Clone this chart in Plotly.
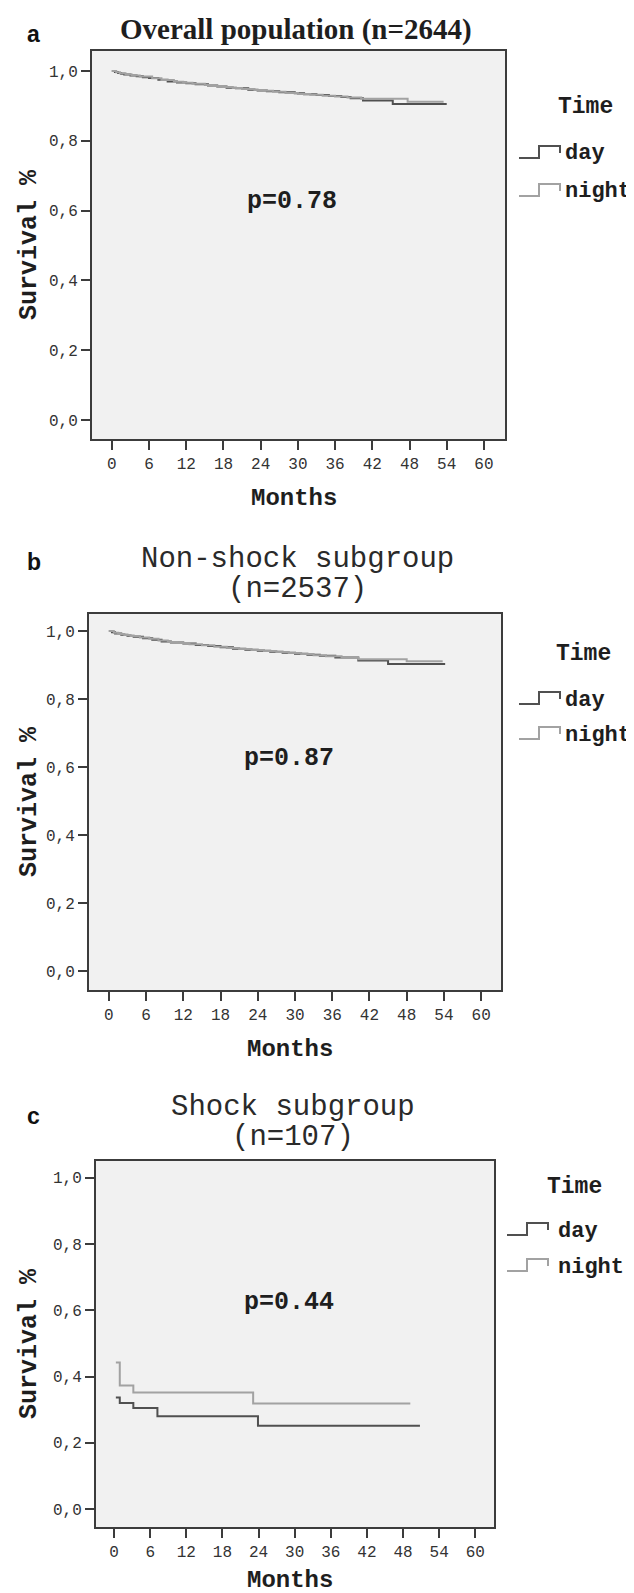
import plotly.graph_objects as go

W, H = 634, 1593

# ---------------- data ----------------
months_ticks = [0, 6, 12, 18, 24, 30, 36, 42, 48, 54, 60]
surv_ticks = [0.0, 0.2, 0.4, 0.6, 0.8, 1.0]

a_day_t = [0, 0.5, 1, 1.5, 2, 3, 4, 5, 6, 7.5, 9, 10.5, 12, 13.5, 15.5, 17, 18.5, 20, 22, 23.5,
           25, 27, 29.5, 31, 33, 35, 37, 38.5, 40.5, 45.3, 54]
a_day_s = [1.0, 0.997, 0.994, 0.992, 0.990, 0.987, 0.985, 0.982, 0.980, 0.975, 0.970, 0.967, 0.965,
           0.962, 0.958, 0.955, 0.952, 0.950, 0.946, 0.944, 0.942, 0.939, 0.936, 0.933, 0.931, 0.928,
           0.925, 0.922, 0.915, 0.905, 0.905]
a_night_t = [0, 0.7, 1.3, 2.2, 3.2, 4.5, 6.5, 8, 10, 11.5, 13, 15, 16.5, 18, 19.5, 21, 23, 24.5, 26,
             28, 30, 32, 34, 36, 38, 40.2, 47.7, 53.5]
a_night_s = [1.0, 0.996, 0.993, 0.990, 0.987, 0.984, 0.979, 0.974, 0.969, 0.966, 0.963, 0.960, 0.957,
             0.954, 0.951, 0.948, 0.945, 0.943, 0.940, 0.937, 0.934, 0.932, 0.929, 0.927, 0.924, 0.920,
             0.912, 0.912]

b_day_t = [0, 0.5, 1, 2, 3, 4, 5.5, 7, 8.5, 10, 12, 14, 16, 18, 20, 22, 24, 26, 28, 30, 32, 34, 36.5,
           40.2, 45, 54.2]
b_day_s = [1.0, 0.996, 0.993, 0.989, 0.986, 0.983, 0.979, 0.974, 0.969, 0.966, 0.963, 0.959, 0.956,
           0.952, 0.948, 0.945, 0.942, 0.939, 0.936, 0.933, 0.930, 0.927, 0.922, 0.913, 0.903, 0.903]
b_night_t = [0, 0.8, 1.5, 2.5, 3.5, 5, 6.5, 8, 9.5, 11, 13, 15, 17, 19, 21, 23, 25, 27, 29, 31, 33,
             35, 37.5, 40.2, 48, 53.8]
b_night_s = [1.0, 0.995, 0.991, 0.988, 0.985, 0.981, 0.977, 0.972, 0.968, 0.965, 0.961, 0.958, 0.954,
             0.950, 0.947, 0.944, 0.941, 0.938, 0.935, 0.932, 0.929, 0.926, 0.921, 0.917, 0.911, 0.911]

c_day_t = [0.3, 0.95, 3.2, 7.2, 23.9, 50.8]
c_day_s = [0.337, 0.320, 0.305, 0.280, 0.252, 0.252]
c_night_t = [0.3, 0.95, 3.2, 23.1, 49.2]
c_night_s = [0.443, 0.373, 0.352, 0.319, 0.319]

title_lines = [["<b>Overall population (n=2644)</b>"],
               ["Non-shock subgroup", "(n=2537)"],
               ["Shock subgroup", "(n=107)"]]
panel_letters = ["a", "b", "c"]
p_values = ["p=0.78", "p=0.87", "p=0.44"]
groups = ["day", "night"]
legend_title = "Time"

# ---------------- styles / layout geometry ----------------
DAY_C = "#505050"
NIGHT_C = "#a2a2a2"
AX_C = "#3c3c3c"
TXT = "#1e1e1e"
MONO = "Liberation Mono"
DY = -4  # global vertical nudge (px)

def fx(p):
    return p / W

def fy(p):
    return 1 - (p + DY) / H

# panel boxes in pixels: (left, right, top, bottom), x range, y range
panels = [
    dict(box=(84, 497, 47, 435), xr=[-3.2, 63.4], yr=[-0.054, 1.057]),
    dict(box=(81, 493, 610, 986), xr=[-3.2, 63.2], yr=[-0.056, 1.050]),
    dict(box=(88, 486, 1157, 1523), xr=[-3.0, 63.1], yr=[-0.054, 1.051]),
]
series = [
    (a_day_t, a_day_s, a_night_t, a_night_s),
    (b_day_t, b_day_s, b_night_t, b_night_s),
    (c_day_t, c_day_s, c_night_t, c_night_s),
]
months_y = [494, 1045, 1576]

fig = go.Figure()
layout = dict(
    width=W, height=H, margin=dict(l=0, r=0, t=0, b=0),
    paper_bgcolor="white", plot_bgcolor="#f1f1f1",
    showlegend=False, separators=",.",
)
annotations = []
shapes = []


def pann(xp, yp, text, font, xa="center", ya="middle", angle=0):
    annotations.append(dict(x=fx(xp), y=fy(yp), xref="paper", yref="paper", text=text,
                            showarrow=False, xanchor=xa, yanchor=ya, textangle=angle, font=font))


for i, (pn, (dt, ds, nt, ns)) in enumerate(zip(panels, series)):
    k = "" if i == 0 else str(i + 1)
    L, R, T, B = pn["box"]
    axis_common = dict(
        showline=True, mirror=True, linecolor=AX_C, linewidth=2,
        ticks="outside", ticklen=9, tickwidth=2, tickcolor=AX_C,
        showgrid=False, zeroline=False,
        tickfont=dict(family=MONO, size=16, color="#333333"),
    )
    layout["xaxis" + k] = dict(
        axis_common, domain=[fx(L), fx(R)], range=pn["xr"], anchor="y" + k,
        tickmode="array", tickvals=months_ticks, ticktext=[str(m) for m in months_ticks],
    )
    layout["yaxis" + k] = dict(
        axis_common, domain=[fy(B), fy(T)], range=pn["yr"], anchor="x" + k,
        tickmode="array", tickvals=surv_ticks, tickformat=".1f",
    )
    fig.add_trace(go.Scatter(x=dt, y=ds, mode="lines", line=dict(shape="hv", color=DAY_C, width=2),
                             name=groups[0], xaxis="x" + k, yaxis="y" + k))
    fig.add_trace(go.Scatter(x=nt, y=ns, mode="lines", line=dict(shape="hv", color=NIGHT_C, width=2),
                             name=groups[1], xaxis="x" + k, yaxis="y" + k))

    # p-value text
    annotations.append(dict(x=29, y=0.625, xref="x" + k, yref="y" + k, text="<b>%s</b>" % p_values[i],
                            showarrow=False, xanchor="center", yanchor="middle",
                            font=dict(family=MONO, size=25, color=TXT)))
    # axis titles
    pann(21, (T + B) / 2, "<b>Survival %</b>", dict(family=MONO, size=25, color=TXT), angle=-90)
    pann((L + R) / 2 - 5, months_y[i], "<b>Months</b>", dict(family=MONO, size=24, color=TXT))

# panel letters and titles
letter_y = [30, 558, 1112]
title_y0 = [25, 555, 1103]
title_x = [288, 289, 285]
title_fonts = [dict(family="Liberation Serif", size=29, color=TXT),
               dict(family=MONO, size=29, color="#2a2a2a"),
               dict(family=MONO, size=29, color="#2a2a2a")]
for i in range(3):
    pann(17, letter_y[i], "<b>%s</b>" % panel_letters[i],
         dict(family="Liberation Sans", size=23, color="#111111"), xa="left")
    for j, line in enumerate(title_lines[i]):
        pann(title_x[i], title_y0[i] + 30 * j, line, title_fonts[i])

# custom legends (step-shaped keys)
legends = [
    dict(time=(607, 103), text_x=555, rows=[150, 188], icon_x=511),
    dict(time=(605, 650), text_x=555, rows=[696, 731], icon_x=511),
    dict(time=(596, 1183), text_x=548, rows=[1227, 1263], icon_x=499),
]
for lg in legends:
    pann(lg["time"][0], lg["time"][1], "<b>%s</b>" % legend_title,
         dict(family=MONO, size=23, color=TXT), xa="right")
    for j, (gname, col) in enumerate(zip(groups, [DAY_C, NIGHT_C])):
        ry = lg["rows"][j]
        pann(lg["text_x"], ry, "<b>%s</b>" % gname, dict(family=MONO, size=22, color=TXT), xa="left")
        x0 = lg["icon_x"]
        xs = [x0, x0 + 20, x0 + 20, x0 + 41, x0 + 41]
        ys = [ry + 4, ry + 4, ry - 8, ry - 8, ry - 1]
        path = "M " + " L ".join("%.5f,%.5f" % (fx(a), fy(b)) for a, b in zip(xs, ys))
        shapes.append(dict(type="path", path=path, xref="paper", yref="paper",
                           line=dict(color=col, width=2)))

layout["annotations"] = annotations
layout["shapes"] = shapes
fig.update_layout(**layout)
fig.write_html("out.html")
